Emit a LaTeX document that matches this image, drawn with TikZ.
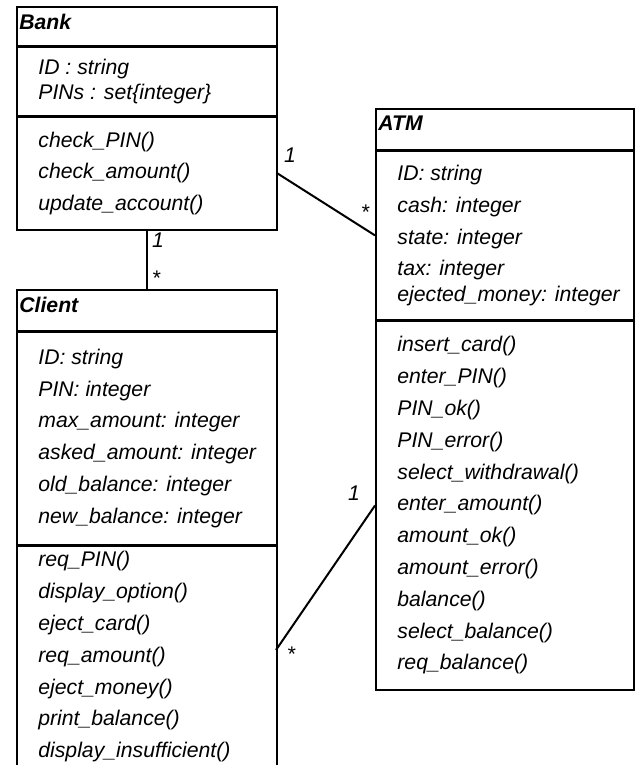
\documentclass[tikz,border=0pt]{standalone}
\usepackage{fontspec}
\setmainfont{Liberation Sans}

\begin{document}
\begin{tikzpicture}[x=0.5pt,y=-0.5pt,
  box/.style={draw,line width=0.8pt,anchor=north west,inner sep=0pt},
  classname/.style={font=\fontsize{10.6}{12}\selectfont\bfseries\itshape,anchor=north west,inner xsep=1.5pt,inner ysep=4pt},
  members/.style={font=\fontsize{10.6}{15.9}\selectfont\itshape,align=left,anchor=west,inner xsep=11pt,inner ysep=0pt},
  link/.style={line width=1pt},
  mult/.style={font=\fontsize{10.6}{12}\selectfont\itshape,inner sep=0pt}]
  \path[use as bounding box,clip] (0,0) rectangle (638,765);

  % Bank
  \node[box,minimum width=130pt,minimum height=19.5pt] (banktitle) at (16,6) {};
  \node[box,minimum width=130pt,minimum height=34pt] (bankattr) at (banktitle.south west) {};
  \node[box,minimum width=130pt,minimum height=56.5pt] (bankops) at (bankattr.south west) {};
  \node[classname] (bankname) at (banktitle.north west) {Bank};
  \node[members] (bankattrtxt) at (bankattr.west) {ID : string\\[-3.4pt] PINs : set\{integer\}};
  \node[members] (bankopstxt) at (bankops.west) {check\_PIN()\\ check\_amount()\\ update\_account()};

  % ATM
  \node[box,minimum width=129pt,minimum height=20.5pt] (atmtitle) at (375,108) {};
  \node[box,minimum width=129pt,minimum height=84pt] (atmattr) at (atmtitle.south west) {};
  \node[box,minimum width=129pt,minimum height=184.5pt] (atmops) at (atmattr.south west) {};
  \node[classname] (atmname) at (atmtitle.north west) {ATM};
  \node[members] (atmattrtxt) at (atmattr.west) {ID: string\\ cash: integer\\ state: integer\\ tax: integer\\[-3.2pt] ejected\_money: integer};
  \node[members] (atmopstxt) at (atmops.west) {insert\_card()\\ enter\_PIN()\\ PIN\_ok()\\ PIN\_error()\\ select\_withdrawal()\\ enter\_amount()\\ amount\_ok()\\ amount\_error()\\ balance()\\ select\_balance()\\ req\_balance()};

  % Client (runs off the bottom)
  \node[box,minimum width=130pt,minimum height=20.5pt] (clienttitle) at (16,289) {};
  \node[box,minimum width=130pt,minimum height=106pt] (clientattr) at (clienttitle.south west) {};
  \node[box,minimum width=130pt,minimum height=130pt] (clientops) at (clientattr.south west) {};
  \node[classname] (clientname) at (clienttitle.north west) {Client};
  \node[members] (clientattrtxt) at (clientattr.west) {ID: string\\ PIN: integer\\ max\_amount: integer\\ asked\_amount: integer\\ old\_balance: integer\\ new\_balance: integer};
  \node[members,anchor=north west,yshift=-3pt] (clientopstxt) at (clientops.north west) {req\_PIN()\\ display\_option()\\ eject\_card()\\ req\_amount()\\ eject\_money()\\ print\_balance()\\ display\_insufficient()};

  % associations
  \coordinate (clientlink) at (276,650);
  \draw[link] (bankops.south) -- (clienttitle.north);
  \draw[link] (bankops.east) -- (atmattr.west);
  \draw[link] (clientlink) -- (atmops.west);

  \node[mult] (bankclient1) at (158,240) {1};
  \node[mult] (bankclientn) at (156,278) {*};
  \node[mult] (bankatm1) at (290,155) {1};
  \node[mult] (bankatmn) at (365,212) {*};
  \node[mult] (atmclient1) at (354,493) {1};
  \node[mult] (atmclientn) at (291,654) {*};
\end{tikzpicture}
\end{document}
